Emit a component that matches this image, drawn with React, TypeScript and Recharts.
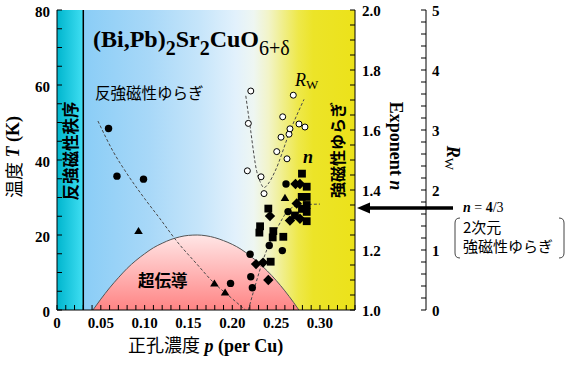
import React from "react";
import { ComposedChart, XAxis, YAxis, Scatter, Line, Area, ReferenceLine, CartesianGrid } from "recharts";

const serif = "Liberation Serif, Times New Roman, serif";
const cjk = "Noto Sans CJK JP, Noto Sans CJK SC, sans-serif";

// ---- axis ticks ----
const pMinorTicks = [0, 0.01, 0.02, 0.03, 0.04, 0.05, 0.06, 0.07, 0.08, 0.09, 0.1, 0.11, 0.12, 0.13, 0.14, 0.15, 0.16, 0.17, 0.18, 0.19, 0.2, 0.21, 0.22, 0.23, 0.24, 0.25, 0.26, 0.27, 0.28, 0.29, 0.3, 0.31, 0.32, 0.33, 0.34];
const pLabelValues = [0, 0.05, 0.1, 0.15, 0.2, 0.25, 0.3];
const pLabelTexts = ["0", "0.05", "0.10", "0.15", "0.20", "0.25", "0.30"];
const tMinorTicks = [0, 5, 10, 15, 20, 25, 30, 35, 40, 45, 50, 55, 60, 65, 70, 75, 80];
const tLabelValues = [0, 20, 40, 60, 80];
const nMinorTicks = [1, 1.05, 1.1, 1.15, 1.2, 1.25, 1.3, 1.35, 1.4, 1.45, 1.5, 1.55, 1.6, 1.65, 1.7, 1.75, 1.8, 1.85, 1.9, 1.95, 2];
const nLabelValues = [1, 1.2, 1.4, 1.6, 1.8, 2];
const nLabelTexts = ["1.0", "1.2", "1.4", "1.6", "1.8", "2.0"];
const rwMinorTicks = [0, 0.2, 0.4, 0.6, 0.8, 1, 1.2, 1.4, 1.6, 1.8, 2, 2.2, 2.4, 2.6, 2.8, 3, 3.2, 3.4, 3.6, 3.8, 4, 4.2, 4.4, 4.6, 4.8, 5];
const rwLabelValues = [0, 1, 2, 3, 4, 5];

// ---- regions ----
const afOrderEdge = 0.03;

// superconducting dome Tc(p)
const domeP = [0.041, 0.05, 0.06, 0.07, 0.08, 0.09, 0.1, 0.11, 0.12, 0.13, 0.14, 0.15, 0.16, 0.17, 0.18, 0.19, 0.2, 0.21, 0.22, 0.23, 0.24, 0.25, 0.26, 0.27, 0.276];
const domeTc = [0, 2.9, 5.9, 8.6, 11.1, 13.2, 15.0, 16.6, 17.8, 18.8, 19.5, 19.9, 20.0, 19.8, 19.3, 18.5, 17.5, 16.2, 14.5, 12.6, 10.4, 7.9, 5.1, 2.0, 0];

// AF fluctuation crossover (dotted)
const afFluctP = [0.0467, 0.064, 0.08, 0.1, 0.117, 0.1375, 0.159, 0.18, 0.195, 0.215];
const afFluctT = [50.4, 42.3, 36.3, 29.7, 24.5, 18.1, 12.4, 7.0, 4.0, 0];

// R_W guide curve (dotted)
const rwCurveP = [0.2154, 0.2203, 0.2279, 0.2317, 0.2362, 0.2408, 0.2487, 0.2658, 0.2818];
const rwCurveV = [3.57, 3.06, 2.31, 2.14, 2.04, 2.10, 2.31, 2.98, 3.51];

// exponent n guide curve (dotted)
const nCurveP = [0.2183, 0.2271, 0.2354, 0.243, 0.2507, 0.2639, 0.2772, 0.3];
const nCurveV = [1.0, 1.091, 1.169, 1.226, 1.27, 1.332, 1.35, 1.353];

// R_W data (open circles)
const rwP = [0.2211, 0.2183, 0.2172, 0.2328, 0.2362, 0.2507, 0.2624, 0.2556, 0.2647, 0.2658, 0.2575, 0.2761, 0.2829, 0.2696];
const rwV = [3.65, 3.11, 2.32, 2.22, 1.94, 2.64, 2.52, 2.88, 2.93, 3.02, 3.22, 3.10, 3.05, 3.58];

// temperature data (left axis)
const circleTP = [0.0588, 0.0684, 0.0987, 0.198];
const circleT = [48.4, 35.7, 34.9, 7.1];
const triangleTP = [0.093, 0.1796, 0.1918];
const triangleT = [21.1, 7.1, 4.7];

// exponent n data
const squareNP = [0.2795, 0.2849, 0.2849, 0.2849, 0.2849, 0.2849, 0.2792, 0.2795, 0.2715, 0.2411, 0.2468, 0.2582, 0.2309, 0.2317, 0.2438, 0.2461];
const squareN = [1.4545, 1.411, 1.377, 1.35, 1.327, 1.296, 1.377, 1.337, 1.315, 1.338, 1.263, 1.244, 1.258, 1.279, 1.161, 1.242];
const diamondNP = [0.2721, 0.2772, 0.2772, 0.2658, 0.243, 0.2271, 0.2351, 0.2411, 0.2735];
const diamondN = [1.42, 1.42, 1.304, 1.298, 1.313, 1.153, 1.158, 1.1, 1.355];
const circleNP = [0.2613, 0.2636, 0.2422, 0.2571, 0.2203, 0.2211, 0.2229];
const circleN = [1.42, 1.328, 1.215, 1.198, 1.186, 1.111, 1.074];
const triangleNP = [0.2601];
const triangleN = [1.374];

const zip = (xs: number[], ys: number[]) => xs.map((p, i) => ({ p, v: ys[i] }));

const near = (arr: number[], v: number) => arr.findIndex((a) => Math.abs(a - v) < 1e-6);

const serifStyle = { fontFamily: serif };
const cjkStyle = { fontFamily: cjk };

const BottomTick = (props: any) => {
  const { x, y, payload } = props;
  const i = near(pLabelValues, payload.value);
  return (
    <g>
      <line x1={x} y1={y} x2={x} y2={y - 5} stroke="#000" strokeWidth={1} />
      {i >= 0 && (
        <text x={x} y={y + 18} textAnchor="middle" style={serifStyle} fontWeight="bold" fontSize={15} fill="#000">
          {pLabelTexts[i]}
        </text>
      )}
    </g>
  );
};
const TopTick = (props: any) => {
  const { x, y } = props;
  return <line x1={x} y1={y} x2={x} y2={y + 5} stroke="#000" strokeWidth={1} />;
};
const LeftTick = (props: any) => {
  const { x, y, payload } = props;
  const i = near(tLabelValues, payload.value);
  return (
    <g>
      <line x1={x} y1={y} x2={x + 5} y2={y} stroke="#000" strokeWidth={1} />
      {i >= 0 && (
        <text x={x - 7} y={y + 7} textAnchor="end" style={serifStyle} fontWeight="bold" fontSize={15} fill="#000">
          {String(tLabelValues[i])}
        </text>
      )}
    </g>
  );
};
const NTick = (props: any) => {
  const { x, y, payload } = props;
  const i = near(nLabelValues, payload.value);
  return (
    <g>
      <line x1={x} y1={y} x2={x - 5} y2={y} stroke="#000" strokeWidth={1} />
      {i >= 0 && (
        <text x={x + 7} y={y + 6} textAnchor="start" style={serifStyle} fontWeight="bold" fontSize={15} fill="#000">
          {nLabelTexts[i]}
        </text>
      )}
    </g>
  );
};
const RwTick = (props: any) => {
  const { x, y, payload } = props;
  const i = near(rwLabelValues, payload.value);
  return (
    <g>
      <line x1={x} y1={y} x2={x - 5} y2={y} stroke="#000" strokeWidth={1} />
      {i >= 0 && (
        <text x={x + 6} y={y + 6} textAnchor="start" style={serifStyle} fontWeight="bold" fontSize={15} fill="#000">
          {String(rwLabelValues[i])}
        </text>
      )}
    </g>
  );
};

const marker = (kind: string) => (props: any) => {
  const { cx, cy } = props;
  if (cx == null || cy == null) return <g />;
  switch (kind) {
    case "square":
      return <rect x={cx - 3.9} y={cy - 3.9} width={7.8} height={7.8} fill="#000" />;
    case "diamond":
      return <path d={`M${cx},${cy - 5.2}L${cx + 5.2},${cy}L${cx},${cy + 5.2}L${cx - 5.2},${cy}Z`} fill="#000" />;
    case "triangle":
      return <path d={`M${cx},${cy - 4}L${cx + 4.3},${cy + 3.2}L${cx - 4.3},${cy + 3.2}Z`} fill="#000" />;
    case "open":
      return <circle cx={cx} cy={cy} r={3} fill="#fff" stroke="#000" strokeWidth={1} />;
    default:
      return <circle cx={cx} cy={cy} r={3.7} fill="#000" />;
  }
};

const dash = { stroke: "#4a4a4a", strokeWidth: 1, strokeDasharray: "3 2" };

export default function App() {
  return (
    <div style={{ position: "relative", width: 567, height: 380, background: "#fff" }}>
      <style>{"body{margin:0}"}</style>
      <ComposedChart width={567} height={380} margin={{ top: 10, right: 81, bottom: 0, left: 0 }}>
        <defs>
          <linearGradient id="bg" x1="0" y1="0" x2="1" y2="0">
            <stop offset="0" stopColor="#00b6ce" />
            <stop offset="0.088" stopColor="#40def2" />
            <stop offset="0.0882" stopColor="#8acdf6" />
            <stop offset="0.31" stopColor="#a8d8f8" />
            <stop offset="0.48" stopColor="#c6e5fa" />
            <stop offset="0.6" stopColor="#e2f1fc" />
            <stop offset="0.66" stopColor="#eef6f2" />
            <stop offset="0.71" stopColor="#f2f4c8" />
            <stop offset="0.76" stopColor="#f0ee88" />
            <stop offset="0.81" stopColor="#eee84a" />
            <stop offset="0.86" stopColor="#ece428" />
            <stop offset="1" stopColor="#ece21a" />
          </linearGradient>
          <linearGradient id="dome" x1="0" y1="0" x2="0" y2="1">
            <stop offset="0" stopColor="#ffe6e6" />
            <stop offset="1" stopColor="#ff8484" />
          </linearGradient>
        </defs>
        <CartesianGrid yAxisId="T" horizontal={false} vertical={false} fill="url(#bg)" fillOpacity={1} stroke="none" />
        <XAxis
          dataKey="p"
          type="number"
          domain={[0, 0.34]}
          allowDataOverflow
          ticks={pMinorTicks}
          interval={0}
          height={70}
          tickSize={0}
          tickMargin={0}
          tickLine={false}
          tick={<BottomTick />}
          axisLine={{ stroke: "#000", strokeWidth: 1 }}
        />
        <XAxis
          xAxisId="top"
          orientation="top"
          dataKey="p"
          type="number"
          domain={[0, 0.34]}
          allowDataOverflow
          ticks={pMinorTicks}
          interval={0}
          height={0}
          tickSize={0}
          tickMargin={0}
          tickLine={false}
          tick={<TopTick />}
          axisLine={{ stroke: "#000", strokeWidth: 1 }}
        />
        <YAxis
          yAxisId="T"
          type="number"
          domain={[0, 80]}
          allowDataOverflow
          ticks={tMinorTicks}
          interval={0}
          width={57}
          tickSize={0}
          tickMargin={0}
          tickLine={false}
          tick={<LeftTick />}
          axisLine={{ stroke: "#000", strokeWidth: 1 }}
        />
        <YAxis
          yAxisId="n"
          orientation="right"
          type="number"
          domain={[1, 2]}
          allowDataOverflow
          ticks={nMinorTicks}
          interval={0}
          width={71}
          tickSize={0}
          tickMargin={0}
          tickLine={false}
          tick={<NTick />}
          axisLine={{ stroke: "#000", strokeWidth: 1 }}
        />
        <YAxis
          yAxisId="rw"
          orientation="right"
          type="number"
          domain={[0, 5]}
          allowDataOverflow
          ticks={rwMinorTicks}
          interval={0}
          width={60}
          tickSize={0}
          tickMargin={0}
          tickLine={false}
          tick={<RwTick />}
          axisLine={{ stroke: "#000", strokeWidth: 1 }}
        />
        <ReferenceLine yAxisId="T" x={afOrderEdge} stroke="#000" strokeWidth={1.5} />
        <Area
          yAxisId="T"
          data={zip(domeP, domeTc)}
          dataKey="v"
          type="monotone"
          fill="url(#dome)"
          fillOpacity={1}
          stroke="#555"
          strokeWidth={1}
          isAnimationActive={false}
          dot={false}
          activeDot={false}
        />
        <Line yAxisId="T" data={zip(afFluctP, afFluctT)} dataKey="v" type="monotone" {...dash} dot={false} activeDot={false} isAnimationActive={false} />
        <Line yAxisId="rw" data={zip(rwCurveP, rwCurveV)} dataKey="v" type="monotone" {...dash} dot={false} activeDot={false} isAnimationActive={false} />
        <Line yAxisId="n" data={zip(nCurveP, nCurveV)} dataKey="v" type="monotone" {...dash} dot={false} activeDot={false} isAnimationActive={false} />
        <Scatter yAxisId="T" data={zip(circleTP, circleT)} dataKey="v" shape={marker("circle")} isAnimationActive={false} />
        <Scatter yAxisId="T" data={zip(triangleTP, triangleT)} dataKey="v" shape={marker("triangle")} isAnimationActive={false} />
        <Scatter yAxisId="n" data={zip(squareNP, squareN)} dataKey="v" shape={marker("square")} isAnimationActive={false} />
        <Scatter yAxisId="n" data={zip(diamondNP, diamondN)} dataKey="v" shape={marker("diamond")} isAnimationActive={false} />
        <Scatter yAxisId="n" data={zip(circleNP, circleN)} dataKey="v" shape={marker("circle")} isAnimationActive={false} />
        <Scatter yAxisId="n" data={zip(triangleNP, triangleN)} dataKey="v" shape={marker("triangle")} isAnimationActive={false} />
        <Scatter yAxisId="rw" data={zip(rwP, rwV)} dataKey="v" shape={marker("open")} isAnimationActive={false} />
      </ComposedChart>
      <svg width={567} height={380} style={{ position: "absolute", left: 0, top: 0, pointerEvents: "none" }}>
        {/* compound formula */}
        <text x={93} y={47} style={serifStyle} fontWeight="bold" fontSize={24} fill="#000">
          (Bi,Pb)
          <tspan fontSize={20} dy={8}>2</tspan>
          <tspan dy={-8}>Sr</tspan>
          <tspan fontSize={20} dy={8}>2</tspan>
          <tspan dy={-8}>CuO</tspan>
          <tspan fontSize={20} fontWeight="normal" dy={8}>6+δ</tspan>
        </text>
        <text x={95} y={99} style={cjkStyle} fontSize={15.5} fill="#000">反強磁性ゆらぎ</text>
        <text x={70} y={151} transform="rotate(-90 70 151)" textAnchor="middle" dominantBaseline="central" style={cjkStyle} fontWeight="bold" fontSize={16.5} fill="#000">反強磁性秩序</text>
        <text x={337} y={150} transform="rotate(-90 337 150)" textAnchor="middle" dominantBaseline="central" style={cjkStyle} fontWeight="bold" fontSize={16} fill="#000">強磁性ゆらぎ</text>
        <text x={138} y={287} style={cjkStyle} fontWeight="bold" fontSize={16.5} fill="#000">超伝導</text>
        <text x={295} y={85.5} style={serifStyle} fontStyle="italic" fontSize={18} fill="#000">
          R<tspan fontStyle="normal" fontSize={13} dy={3}>W</tspan>
        </text>
        <text x={303} y={163} style={serifStyle} fontStyle="italic" fontWeight="bold" fontSize={18} fill="#000">n</text>

        {/* arrow to n = 4/3 */}
        <line x1={453} y1={208} x2={366} y2={208} stroke="#000" strokeWidth={3.5} />
        <path d="M357,208 L370,202.5 L370,213.5 Z" fill="#000" />
        <text x={463} y={212} style={serifStyle} fontSize={14} fill="#000">
          <tspan fontWeight="bold" fontStyle="italic">n</tspan>
          <tspan> = </tspan>
          <tspan fontWeight="bold">4</tspan>
          <tspan>/3</tspan>
        </text>
        <path d="M460,218 Q455,218 455,223 L455,253 Q455,258 460,258" fill="none" stroke="#444" strokeWidth={1} />
        <path d="M559,218 Q564,218 564,223 L564,253 Q564,258 559,258" fill="none" stroke="#444" strokeWidth={1} />
        <text x={463} y={233} style={cjkStyle} fontSize={15} fill="#000">2次元</text>
        <text x={463} y={252} style={cjkStyle} fontSize={15} fill="#000">強磁性ゆらぎ</text>

        {/* axis titles */}
        <text x={13} y={157} transform="rotate(-90 13 157)" textAnchor="middle" dominantBaseline="central" fontSize={18} fill="#000">
          <tspan style={cjkStyle}>温度</tspan>
          <tspan style={serifStyle} fontWeight="bold" fontStyle="italic"> T</tspan>
          <tspan style={serifStyle} fontWeight="bold"> (K)</tspan>
        </text>
        <text x={128} y={352} fontSize={18} fill="#000">
          <tspan style={cjkStyle}>正孔濃度</tspan>
          <tspan style={serifStyle} fontWeight="bold" fontStyle="italic"> p</tspan>
          <tspan style={serifStyle} fontWeight="bold"> (per Cu)</tspan>
        </text>
        <text x={396} y={146} transform="rotate(90 396 146)" textAnchor="middle" dominantBaseline="central" style={serifStyle} fontWeight="bold" fontSize={18} fill="#000">
          Exponent <tspan fontStyle="italic">n</tspan>
        </text>
        <text x={453} y={158} transform="rotate(90 453 158)" textAnchor="middle" dominantBaseline="central" style={serifStyle} fontWeight="bold" fontSize={18} fill="#000">
          <tspan fontStyle="italic">R</tspan>
          <tspan fontSize={13} fontWeight="normal" dy={3}>W</tspan>
        </text>
      </svg>
    </div>
  );
}
